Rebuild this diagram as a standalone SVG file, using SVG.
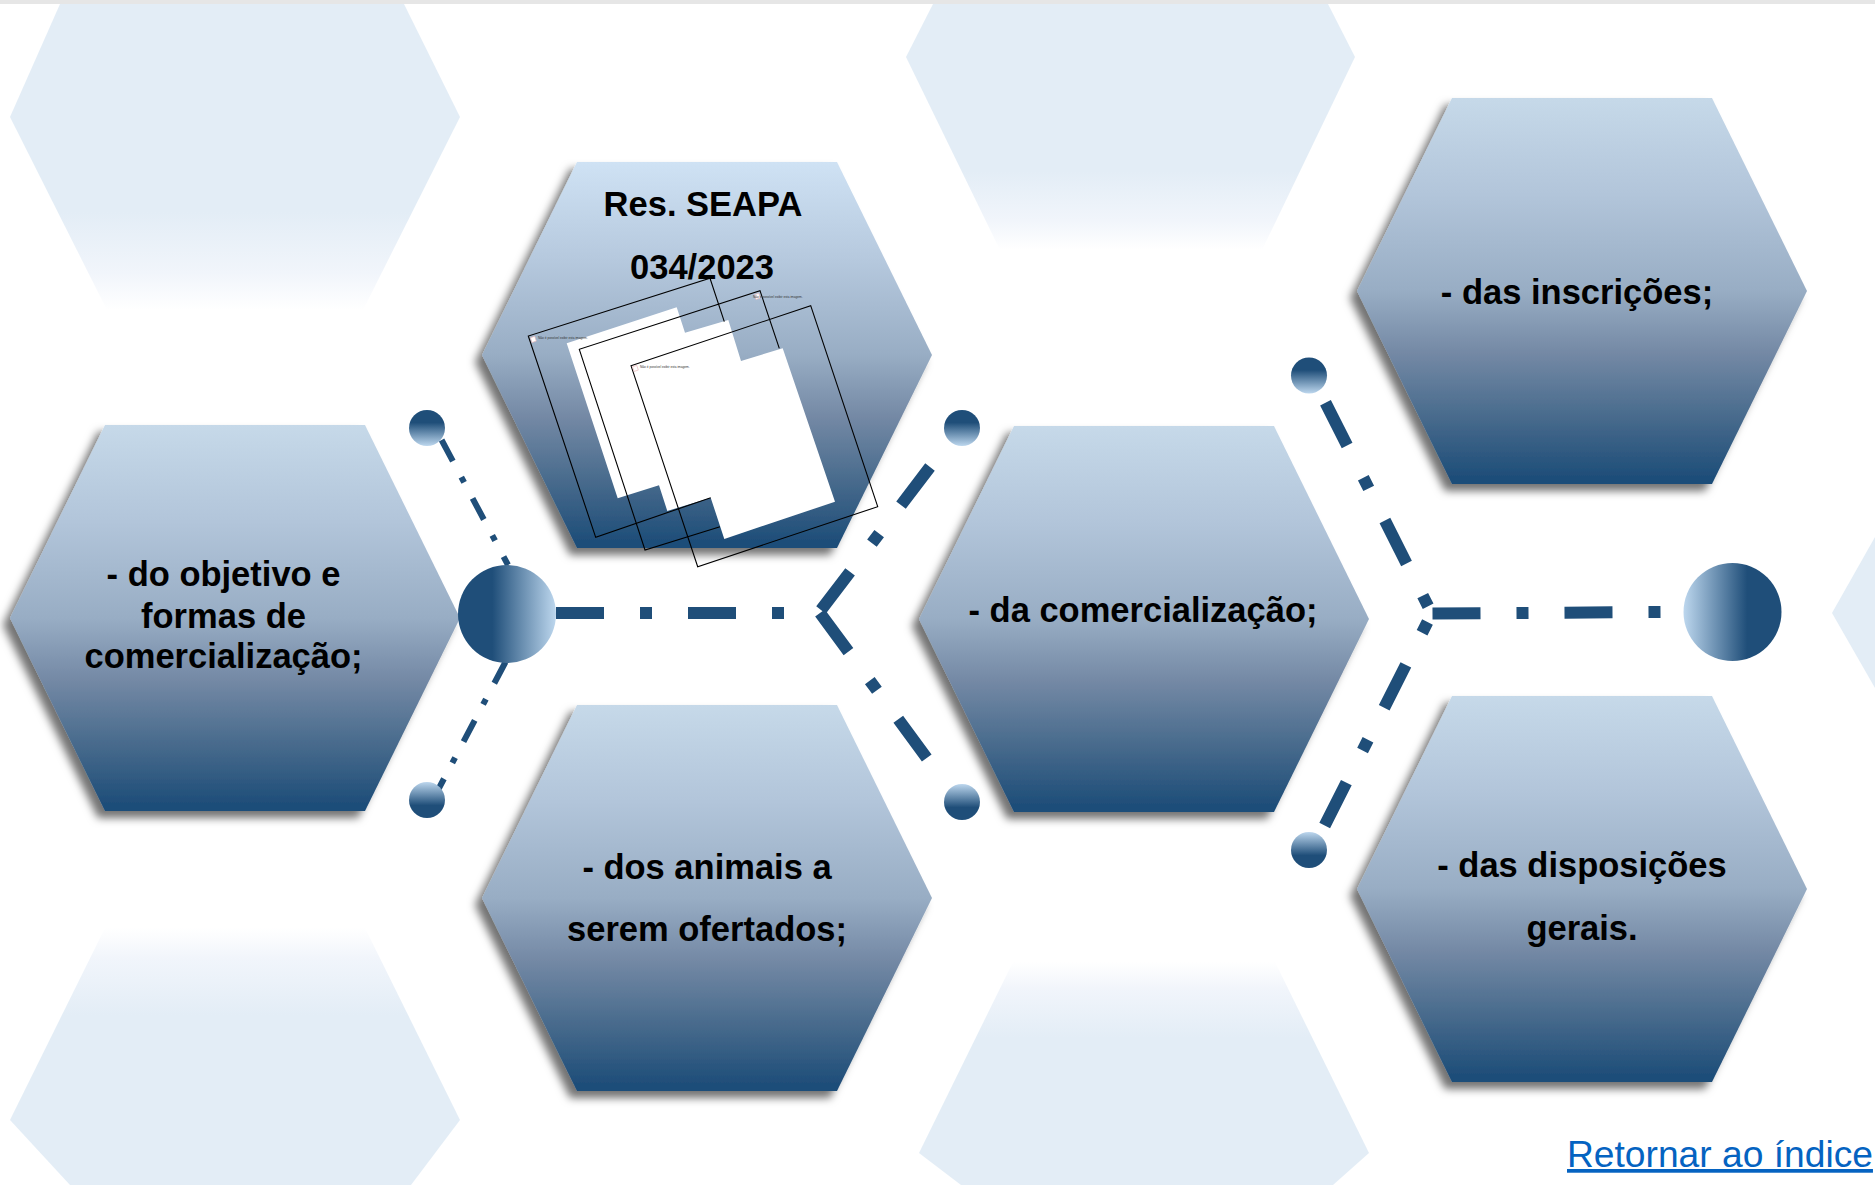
<svg xmlns="http://www.w3.org/2000/svg" width="1875" height="1185" viewBox="0 0 1875 1185">
<style>
text{font-family:"Liberation Sans",Arial,sans-serif}
.t{font-size:34.5px;font-weight:bold;fill:#000;text-anchor:middle}
.h{fill:url(#hex);filter:url(#sh)}
.lh{fill:#e3edf6}
.d{fill:none;stroke:#1f4e79;stroke-width:12;stroke-dasharray:48 36 12 36}
.e{fill:none;stroke:#1f4e79;stroke-width:6;stroke-dasharray:24 18 6 18}
.f{fill:none;stroke:#000;stroke-width:1.1}
.n{font-size:3.2px;fill:#333}
.ic{fill:#fff;stroke:#e8b4b4;stroke-width:.6}
</style>
<defs>
<linearGradient id="hex" x1="0" y1="0" x2="0" y2="1"><stop offset="0" stop-color="#c6d9e9"/><stop offset=".25" stop-color="#b2c5da"/><stop offset=".5" stop-color="#98adc4"/><stop offset=".66" stop-color="#7489a5"/><stop offset=".83" stop-color="#476a8c"/><stop offset=".98" stop-color="#1f4e79"/></linearGradient>
<linearGradient id="hexa" x1="0" y1="0" x2="0" y2="1"><stop offset="0" stop-color="#cfe2f4"/><stop offset=".25" stop-color="#b6c9de"/><stop offset=".5" stop-color="#98adc4"/><stop offset=".66" stop-color="#7489a5"/><stop offset=".83" stop-color="#476a8c"/><stop offset=".98" stop-color="#1f4e79"/></linearGradient>
<linearGradient id="fadeDown" x1="0" y1="0" x2="0" y2="1"><stop offset=".68" stop-color="#e3edf6"/><stop offset=".88" stop-color="#f1f5fb"/><stop offset="1" stop-color="#fff"/></linearGradient>
<linearGradient id="fadeUp" x1="0" y1="1" x2="0" y2="0"><stop offset=".66" stop-color="#e3edf6"/><stop offset=".88" stop-color="#f1f5fb"/><stop offset="1" stop-color="#fff"/></linearGradient>
<linearGradient id="cTop" x1="0" y1="0" x2="0" y2="1"><stop offset=".35" stop-color="#1f4e79"/><stop offset="1" stop-color="#bdd7ee"/></linearGradient>
<linearGradient id="cBot" x1="0" y1="0" x2="0" y2="1"><stop offset="0" stop-color="#bdd7ee"/><stop offset=".65" stop-color="#1f4e79"/></linearGradient>
<linearGradient id="cL" x1="0" y1="0" x2="1" y2="0"><stop offset=".35" stop-color="#1f4e79"/><stop offset="1" stop-color="#bdd7ee"/></linearGradient>
<linearGradient id="cR" x1="0" y1="0" x2="1" y2="0"><stop offset="0" stop-color="#bdd7ee"/><stop offset=".65" stop-color="#1f4e79"/></linearGradient>
<filter id="sh" x="-10%" y="-10%" width="120%" height="125%"><feDropShadow dx="-7" dy="7" stdDeviation="4.5" flood-color="#000" flood-opacity=".55"/></filter>
</defs>
<rect width="1875" height="1185" fill="#fff"/>
<g id="background-hexagons">
<polygon points="60,4 404,4 460,117 363,310 107,310 10,117" style="fill:url(#fadeDown)"/>
<polygon points="933,4 1328,4 1355,57 1262,250 1000,250 906,57" style="fill:url(#fadeDown)"/>
<polygon points="105,928 365,928 460,1120 411,1185 70,1185 10,1120" style="fill:url(#fadeUp)"/>
<polygon points="1013,962 1275,962 1369,1153 1333,1185 961,1185 919,1153" style="fill:url(#fadeUp)"/>
<polygon class="lh" points="1875,537 1832,613 1875,688"/>
<rect width="1875" height="4" fill="#e6e6e6"/>
</g>
<g id="connectors">
<path class="d" d="M556 613H790"/>
<path class="d" d="M821 610L930 467"/>
<path class="d" d="M820 613L929 761"/>
<path class="e" d="M441.6 440L508 565"/>
<path class="e" d="M505.5 662L438 790"/>
<path class="d" d="M1432.5 613.5L1665 612"/>
<path class="d" d="M1325.5 402.7L1429.5 609"/>
<path class="d" d="M1324.7 825.5L1429 619"/>
</g>
<g id="node-resolucao">
<polygon class="h" style="fill:url(#hexa)" points="577,162 837,162 932,355 837,548 577,548 482,355"/>
<polygon fill="#fff" points="566.7,343.3 676.7,307.3 685,332.7 728.3,320 741,361 782.7,348.3 835,501.7 724.3,539 710.7,497.7 667.3,511 659,485.3 617.7,498.3"/>
<polyline class="f" points="724.3,321.7 710,278.3 528.3,336 595.7,537.3 710.7,497.7"/>
<polyline class="f" points="779.3,348.3 760,290.7 579.3,349.3 645,550 720,526.7"/>
<polygon class="f" points="631,365.7 810.7,305.7 877.7,506.7 697.7,566.7"/>
<rect class="ic" x="531" y="337" width="4.5" height="5" transform="rotate(-18 533 339)"/>
<rect class="ic" x="755" y="294" width="4.5" height="5" transform="rotate(-18 757 296)"/>
<rect class="ic" x="633" y="366" width="4.5" height="5" transform="rotate(-18 635 368)"/>
<text class="n" x="538" y="339">Não é possível exibir esta imagem.</text>
<text class="n" x="753" y="297.5">Não é possível exibir esta imagem.</text>
<text class="n" x="640" y="368">Não é possível exibir esta imagem.</text>
<text class="t" x="703" y="216">Res. SEAPA</text>
<text class="t" x="702" y="279">034/2023</text>
</g>
<g id="node-objetivo">
<polygon class="h" points="105,425 365,425 460,618 365,811 105,811 10,618"/>
<text class="t" x="223.5" y="586">- do objetivo e</text>
<text class="t" x="223.5" y="628">formas de</text>
<text class="t" x="223.5" y="668">comercialização;</text>
</g>
<g id="node-animais">
<polygon class="h" points="577,705 837,705 932,898 837,1091 577,1091 482,898"/>
<text class="t" x="707" y="879">- dos animais a</text>
<text class="t" x="707" y="941">serem ofertados;</text>
</g>
<g id="node-comercializacao">
<polygon class="h" points="1014,426 1274,426 1369,619 1274,812 1014,812 919,619"/>
<text class="t" x="1143" y="622">- da comercialização;</text>
</g>
<g id="node-inscricoes">
<polygon class="h" points="1452,98 1712,98 1807,291 1712,484 1452,484 1357,291"/>
<text class="t" x="1577" y="304">- das inscrições;</text>
</g>
<g id="node-disposicoes">
<polygon class="h" points="1452,696 1712,696 1807,889 1712,1082 1452,1082 1357,889"/>
<text class="t" x="1582" y="877">- das disposições</text>
<text class="t" x="1582" y="940">gerais.</text>
</g>
<g id="hub-left"><circle cx="507" cy="614" r="49" style="fill:url(#cL)"/></g>
<g id="hub-right"><circle cx="1732.5" cy="612" r="49" style="fill:url(#cR)"/></g>
<g id="dot-1"><circle cx="427" cy="428" r="18" style="fill:url(#cTop)"/></g>
<g id="dot-2"><circle cx="427" cy="800" r="18" style="fill:url(#cBot)"/></g>
<g id="dot-3"><circle cx="962" cy="428" r="18" style="fill:url(#cTop)"/></g>
<g id="dot-4"><circle cx="962" cy="802" r="18" style="fill:url(#cBot)"/></g>
<g id="dot-5"><circle cx="1309" cy="375.5" r="18" style="fill:url(#cTop)"/></g>
<g id="dot-6"><circle cx="1309" cy="850" r="18" style="fill:url(#cBot)"/></g>
<g id="link"><text x="1567" y="1167" font-size="37.2" fill="#0563c1" text-decoration="underline">Retornar ao índice</text></g>
</svg>
